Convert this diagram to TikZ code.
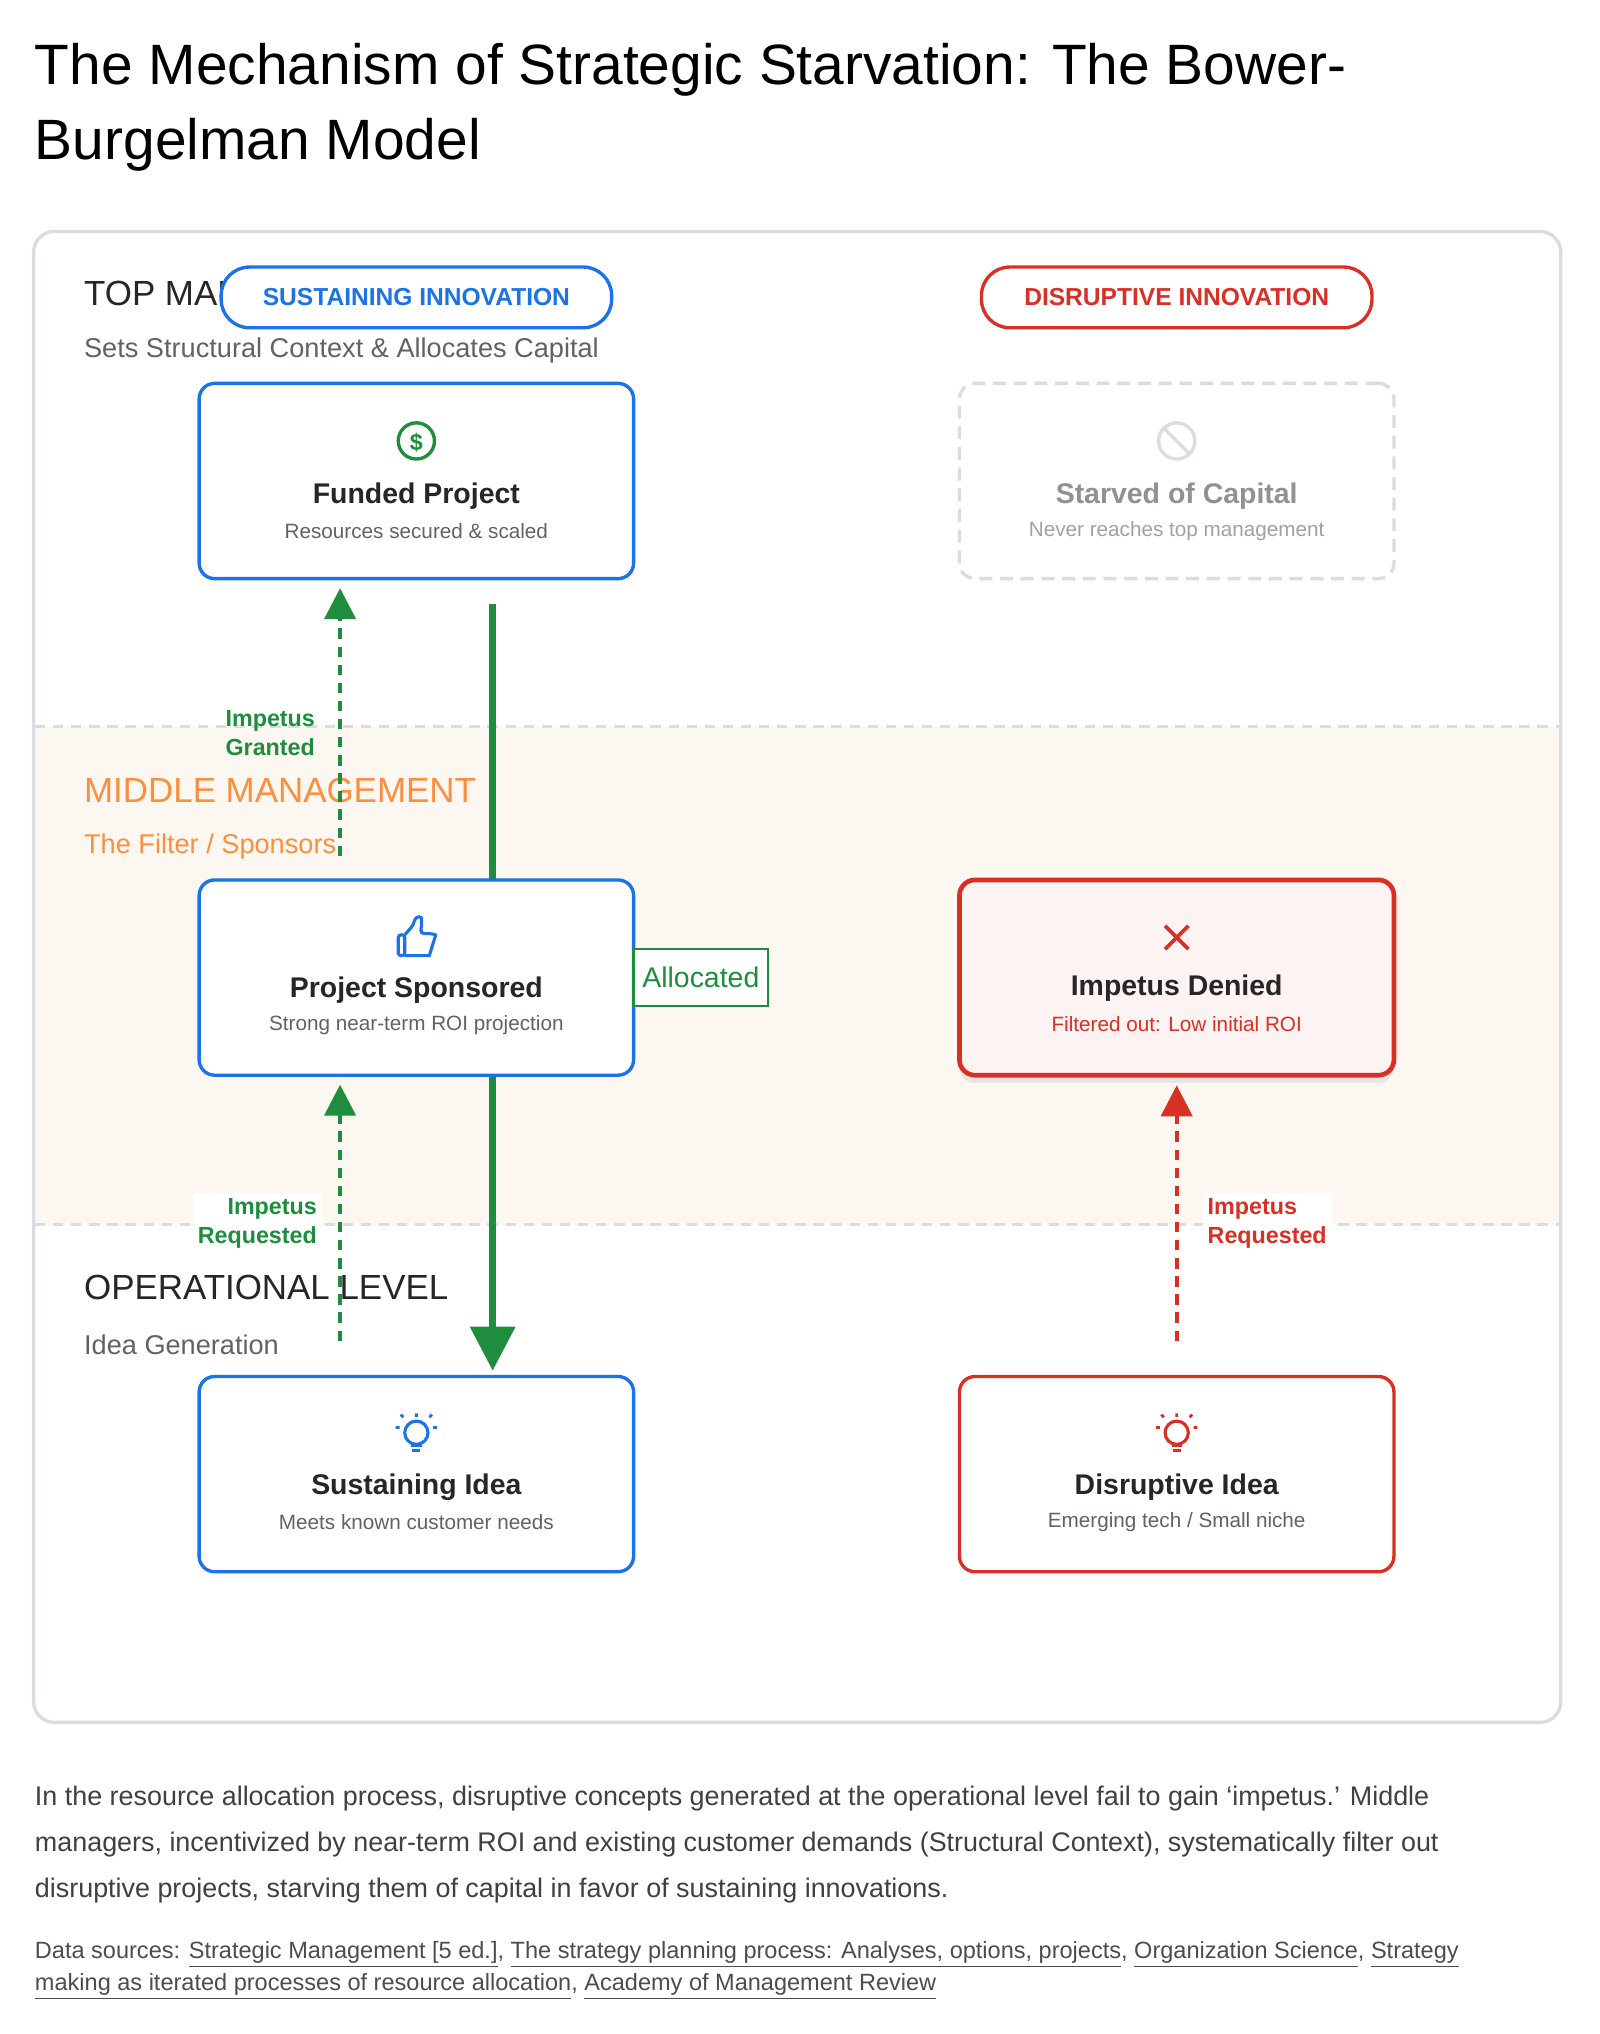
\documentclass[tikz,border=0pt]{standalone}
\usepackage{fontspec}
\setmainfont{Liberation Sans}
\usetikzlibrary{arrows.meta,shadows}
\definecolor{gblue}{HTML}{1A73E8}
\definecolor{gred}{HTML}{D93025}
\definecolor{ggreen}{HTML}{1E8E3E}
\definecolor{gorange}{HTML}{FA903E}
\definecolor{ggray}{HTML}{5F6368}
\definecolor{lgray}{HTML}{DADCE0}
\definecolor{band}{HTML}{FDF7F2}
\begin{document}
\begin{tikzpicture}[x=0.5pt,y=-0.5pt,
  box/.style={draw,rounded corners=6pt,line width=1.3pt,fill=white,minimum width=168pt,minimum height=75.5pt},
  ttl/.style={font=\fontsize{11}{13}\selectfont\bfseries,text=black!85},
  sub/.style={font=\fontsize{8}{10}\selectfont,text=ggray},
  pill/.style={draw,rounded corners=11pt,line width=1.3pt,fill=white,minimum width=151pt,minimum height=23.5pt,font=\fontsize{9.5}{11}\selectfont\bfseries},
  lvl/.style={anchor=west,font=\fontsize{13.5}{15}\selectfont},
  lvlsub/.style={anchor=west,font=\fontsize{10.5}{12}\selectfont},
  lab/.style={fill=white,align=center,font=\fontsize{9}{11}\selectfont\bfseries,inner sep=2pt},
  dashup/.style={line width=1.6pt,dash pattern=on 4pt off 3pt,-{Triangle[length=12pt,width=12pt]}}
]
\useasboundingbox (0,0) rectangle (1237,1573);
\fill[white] (0,0) rectangle (1237,1573);
% title
\node[anchor=west,font=\fontsize{22}{26}\selectfont] (t1) at (20,54) {The Mechanism of Strategic Starvation: The Bower-};
\node[anchor=west,font=\fontsize{22}{26}\selectfont] (t2) at (20,112) {Burgelman Model};
% frame and band
\fill[band] (27,562) rectangle (1206,947);
\draw[lgray,line width=1pt,dash pattern=on 4pt off 3pt] (27,562) -- (1206,562);
\draw[lgray,line width=1pt,dash pattern=on 4pt off 3pt] (27,947) -- (1206,947);
\draw[lgray,line width=1.3pt,rounded corners=8pt] (26,179) rectangle (1207,1332);
% level labels
\node[lvl,text=black!85] (lt) at (58,227) {TOP MANAGEMENT};
\node[lvlsub,text=ggray] (lts) at (58,271) {Sets Structural Context \& Allocates Capital};
\node[lvl,text=gorange] (lm) at (58,611) {MIDDLE MANAGEMENT};
\node[lvlsub,text=gorange] (lms) at (58,655) {The Filter / Sponsors};
\node[lvl,text=black!85] (lo) at (58,996) {OPERATIONAL LEVEL};
\node[lvlsub,text=ggray] (los) at (58,1040) {Idea Generation};
% pills
\node[pill,draw=gblue,text=gblue] (p1) at (322,230) {SUSTAINING INNOVATION};
\node[pill,draw=gred,text=gred] (p2) at (910,230) {DISRUPTIVE INNOVATION};
% allocation arrow (behind boxes)
\coordinate (as) at (381,467);
\coordinate (ae) at (381,1060);
\draw[ggreen,line width=2.6pt,-{Triangle[length=17pt,width=17pt]}] (as) -- (ae);
% boxes
\node[box,draw=gblue] (fp) at (322,372) {};
\node[box,draw=lgray,dash pattern=on 5pt off 3pt] (sc) at (910,372) {};
\node[box,draw=gblue] (ps) at (322,756) {};
\node[box,draw=gred,fill=gred!6,line width=1.8pt,drop shadow={opacity=0.15,shadow xshift=0pt,shadow yshift=-3pt}] (id) at (910,756) {};
\node[box,draw=gblue] (si) at (322,1140) {};
\node[box,draw=gred] (di) at (910,1140) {};
% icons
\draw[ggreen,line width=1.3pt] (322,341) circle (7pt);
\node[text=ggreen,font=\fontsize{9}{9}\selectfont\bfseries] (ic1) at (322,342) {\$};
\draw[lgray,line width=1.3pt] (910,341) circle (7pt);
\draw[lgray,line width=1.3pt] (900,331) -- (920,351);
\draw[gblue,line width=1.2pt,rounded corners=1pt] (308,723) rectangle (313,739);
\draw[gblue,line width=1.2pt,rounded corners=1.5pt] (313,723) -- (320,715) -- (321,709) .. controls (326,709) .. (326,717) -- (325,722) -- (335,722) .. controls (337,723) .. (336,726) -- (333,736) .. controls (332,739) .. (329,739) -- (313,739);
\draw[gred,line width=1.4pt] (901,716) -- (919,734) (919,716) -- (901,734);
\foreach \cx/\c in {322/gblue,910/gred}{
  \draw[\c,line width=1.2pt] (\cx,1108) circle (4.5pt);
  \draw[\c,line width=1.2pt] (\cx-4,1118) -- (\cx+4,1118) (\cx-3,1122) -- (\cx+3,1122);
  \draw[\c,line width=1.1pt] (\cx,1093)--(\cx,1096) (\cx-13,1104)--(\cx-16,1104) (\cx+13,1104)--(\cx+16,1104) (\cx-10,1096)--(\cx-12,1094) (\cx+10,1096)--(\cx+12,1094);
}
% texts in boxes
\node[ttl] (fpt) at (322,384) {Funded Project};
\node[sub] (fps) at (322,411) {Resources secured \& scaled};
\node[ttl,text=ggray!70] (sct) at (910,384) {Starved of Capital};
\node[sub,text=ggray!60] (scs) at (910,411) {Never reaches top management};
\node[ttl] (pst) at (322,766) {Project Sponsored};
\node[sub] (pss) at (322,793) {Strong near-term ROI projection};
\node[ttl] (idt) at (910,764) {Impetus Denied};
\node[sub,text=gred] (ids) at (910,792) {Filtered out: Low initial ROI};
\node[ttl] (sit) at (322,1150) {Sustaining Idea};
\node[sub] (sis) at (322,1177) {Meets known customer needs};
\node[ttl] (dit) at (910,1150) {Disruptive Idea};
\node[sub] (dis) at (910,1177) {Emerging tech / Small niche};
% dashed impetus arrows
\coordinate (r1) at (263,1037);
\coordinate (r2) at (263,662);
\coordinate (r3) at (910,1037);
\draw[ggreen,dashup] (r1) -- ([yshift=-3pt]ps.south -| r1);
\draw[ggreen,dashup] (r2) -- ([yshift=-3pt]fp.south -| r2);
\draw[gred,dashup] (r3) -- ([yshift=-3pt]id.south);
\node[lab,text=ggreen,align=right] (l1) at (199,946) {Impetus\\Requested};
\node[lab,text=ggreen,align=right,fill=none] (l2) at (209,567) {Impetus\\Granted};
\node[lab,text=gred,align=left] (l3) at (980,946) {Impetus\\Requested};
\node[draw=ggreen,line width=1pt,fill=white,text=ggreen,font=\fontsize{11}{13}\selectfont,minimum width=52pt,minimum height=22pt,inner sep=1pt] (al) at (542,756) {Allocated};
% paragraph
\node[anchor=north west,align=left,text=black!75,font=\fontsize{10.4}{17.8}\selectfont] (para) at (20,1374) {In the resource allocation process, disruptive concepts generated at the operational level fail to gain `impetus.' Middle\\managers, incentivized by near-term ROI and existing customer demands (Structural Context), systematically filter out\\disruptive projects, starving them of capital in favor of sustaining innovations.};
\node[anchor=north west,align=left,text=black!70,font=\fontsize{9.1}{12.5}\selectfont] (src) at (20,1494) {Data sources: \underline{Strategic Management [5 ed.]}, \underline{The strategy planning process: Analyses, options, projects}, \underline{Organization Science}, \underline{Strategy}\\\underline{making as iterated processes of resource allocation}, \underline{Academy of Management Review}};
\end{tikzpicture}
\end{document}
